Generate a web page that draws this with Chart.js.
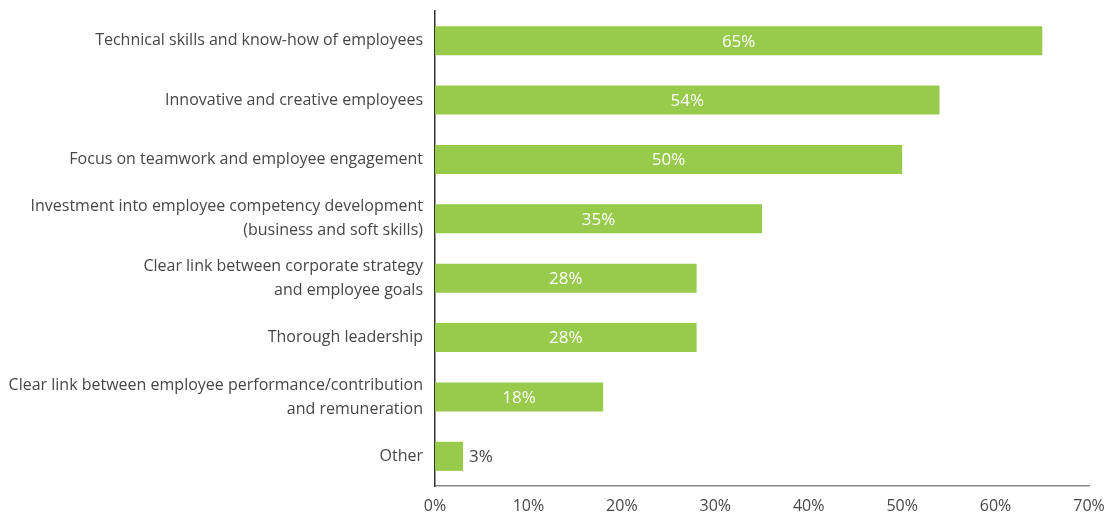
<!DOCTYPE html>
<html>
<head>
<meta charset="utf-8">
<script src="https://cdn.jsdelivr.net/npm/chart.js@4/dist/chart.umd.min.js"></script>
<style>
  html, body { margin: 0; padding: 0; background: #fff; }
  #wrap { width: 1108px; height: 518px; }
</style>
</head>
<body>
<div id="wrap"><canvas id="factorsChart"></canvas></div>
<script>
const factors = [
  'Technical skills and know-how of employees',
  'Innovative and creative employees',
  'Focus on teamwork and employee engagement',
  ['Investment into employee competency development', '(business and soft skills)'],
  ['Clear link between corporate strategy', 'and employee goals'],
  'Thorough leadership',
  ['Clear link between employee performance/contribution', 'and remuneration'],
  'Other'
];
const shares = [65, 54, 50, 35, 28, 28, 18, 3];
const xTicks = [0, 10, 20, 30, 40, 50, 60, 70];

const barGreen = '#98ca4b';
const textGrey = '#474747';
const fontFamily = '"Open Sans", "Noto Sans", sans-serif';

// writes the percentage inside each bar, or just past the end when the bar is short
const valueLabels = {
  id: 'valueLabels',
  afterDatasetsDraw(chart) {
    const ctx = chart.ctx;
    const meta = chart.getDatasetMeta(0);
    ctx.save();
    ctx.font = '17px ' + fontFamily;
    ctx.textBaseline = 'middle';
    meta.data.forEach((bar, i) => {
      const txt = shares[i] + '%';
      const w = bar.x - bar.base;
      if (w > ctx.measureText(txt).width + 12) {
        ctx.fillStyle = '#ffffff';
        ctx.textAlign = 'center';
        ctx.fillText(txt, bar.base + w / 2, bar.y + 1);
      } else {
        ctx.fillStyle = textGrey;
        ctx.textAlign = 'left';
        ctx.fillText(txt, bar.x + 6, bar.y + 1);
      }
    });
    ctx.restore();
  }
};

new Chart(document.getElementById('factorsChart'), {
  type: 'bar',
  data: {
    labels: factors,
    datasets: [{
      data: shares,
      backgroundColor: barGreen,
      borderWidth: 0,
      barPercentage: 0.98,
      categoryPercentage: 0.5
    }]
  },
  options: {
    indexAxis: 'y',
    responsive: true,
    maintainAspectRatio: false,
    animation: false,
    layout: { padding: { top: 11, right: 19, left: 0, bottom: 0 } },
    plugins: {
      legend: { display: false },
      tooltip: { enabled: false }
    },
    scales: {
      x: {
        min: 0,
        max: 70,
        afterBuildTicks(scale) {
          scale.ticks = xTicks.map(v => ({ value: v }));
        },
        afterFit(scale) {
          scale.height = 32;
          scale.paddingLeft = 0;
          scale.paddingRight = 0;
        },
        grid: { display: false, drawTicks: false },
        border: { display: true, color: '#8a8a8a', width: 1.5 },
        ticks: {
          padding: 11,
          color: textGrey,
          font: { family: fontFamily, size: 16 },
          callback: v => v + '%'
        }
      },
      y: {
        afterFit(scale) {
          scale.width = 435;
          scale.paddingTop = 0;
          scale.paddingBottom = 0;
        },
        grid: { display: false, drawTicks: false },
        border: { display: true, color: '#333333', width: 1.5 },
        ticks: {
          padding: 12,
          color: textGrey,
          font: { family: fontFamily, size: 16, lineHeight: 1.5 }
        }
      }
    }
  },
  plugins: [valueLabels]
});
</script>
</body>
</html>
